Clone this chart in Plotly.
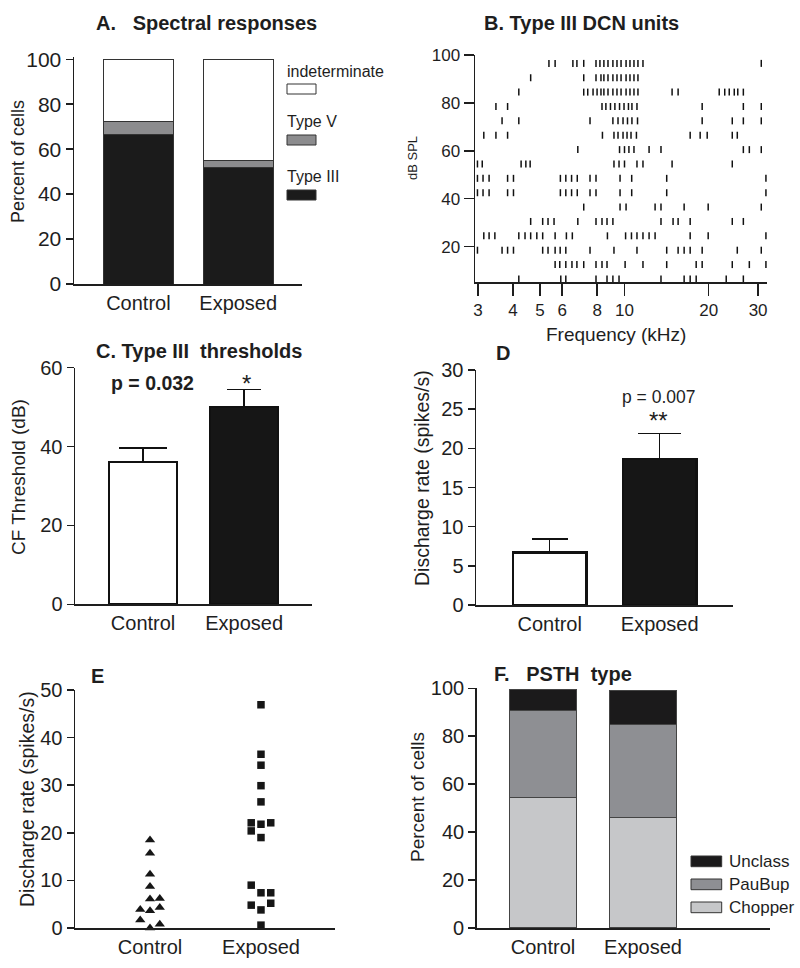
import plotly.graph_objects as go

W, H = 800, 968
FONT = "Liberation Sans, Arial, sans-serif"
INK = "#1e1e1e"

# ---------------- data ----------------
groups = ["Control", "Exposed"]

# A. Spectral responses (percent of cells)
a_type3 = [66.7, 51.8]
a_type5 = [5.8, 3.0]
a_indet = [27.5, 45.2]

# B. Type III DCN units raster: sound level (dB SPL) rows and response frequencies (kHz)
b_levels = [96.5, 90.5, 84.5, 78.5, 72.5, 66.5, 60.5, 54.5,
            48.5, 42.5, 36.5, 30.5, 24.5, 18.5, 12.5, 6.5]
b_freqs = [
    [5.38, 5.66, 6.55, 6.77, 7.16, 7.92, 8.18, 8.45, 8.74, 9.1, 9.41, 9.73, 10.14, 10.47, 10.82, 11.18, 11.65, 30.8],
    [4.63, 7.16, 7.92, 8.25, 8.45, 8.74, 9.1, 9.41, 9.73, 10.14, 10.47, 10.82, 11.18],
    [4.2, 7.16, 7.4, 7.73, 7.99, 8.25, 8.45, 8.74, 9.1, 9.41, 9.73, 10.14, 10.47, 10.82, 11.18, 14.8, 15.55,
     21.8, 22.81, 23.67, 24.67, 25.39, 26.58],
    [3.48, 3.83, 8.32, 8.59, 8.92, 9.25, 9.61, 9.97, 10.34, 10.64, 11.09, 18.95, 26.58, 30.8],
    [3.66, 4.2, 7.54, 9.1, 9.49, 9.89, 10.26, 10.64, 11.14, 18.95, 24.27, 26.58, 30.8],
    [3.15, 3.48, 3.83, 8.35, 9.18, 9.49, 9.89, 10.22, 10.56, 11.04, 17.17, 18.64, 19.75, 24.27, 25.29],
    [6.82, 9.61, 10.01, 10.38, 10.82, 12.25, 13.51, 26.58, 27.92, 30.8],
    [2.99, 3.11, 4.28, 4.45, 4.61, 9.18, 9.57, 10.01, 11.09, 11.65, 14.8, 24.27],
    [2.99, 3.13, 3.29, 3.83, 4.02, 5.91, 6.18, 6.48, 6.79, 7.54, 7.92, 9.65, 10.62, 14.16, 32.0],
    [2.99, 3.13, 3.29, 3.83, 4.02, 5.91, 6.18, 6.48, 6.79, 7.54, 7.92, 9.65, 10.62, 14.16, 32.0],
    [7.16, 9.65, 10.14, 12.87, 13.51, 16.34, 19.91, 30.8],
    [4.63, 5.11, 5.34, 5.61, 6.82, 7.92, 8.32, 8.67, 9.1, 13.51, 14.92, 15.55, 17.17, 24.27, 26.58],
    [3.15, 3.29, 3.45, 4.2, 4.42, 4.63, 4.87, 5.11, 5.66, 6.21, 6.52, 8.7, 10.1, 10.6, 11.09, 11.65, 12.25,
     12.87, 17.17, 19.91, 32.0],
    [2.99, 3.66, 3.83, 4.02, 5.11, 5.34, 5.66, 5.9, 6.18, 7.54, 9.18, 11.09, 14.16, 15.55, 16.34, 17.17,
     18.95, 25.29, 30.8],
    [5.66, 5.88, 6.18, 6.5, 6.77, 7.16, 7.92, 8.32, 8.67, 10.06, 11.65, 14.16, 18.04, 18.95, 24.27, 27.92, 32.0],
    [4.2, 5.93, 6.18, 7.92, 8.67, 9.1, 9.57, 13.51, 16.34, 17.17, 18.04, 23.09, 26.58],
]
b_xticks = [3, 4, 5, 6, 8, 10, 20, 30]

# C. Type III thresholds (dB): mean and SEM
c_mean = [36.0, 50.0]
c_sem = [3.6, 4.5]

# D. Discharge rate (spikes/s): mean and SEM
d_mean = [6.7, 18.6]
d_sem = [1.7, 3.3]

# E. Individual discharge rates (spikes/s) and their column slot in the dot plot
e_ctrl = [18.5, 15.7, 11.3, 8.7, 6.1, 6.2, 3.9, 3.6, 4.3, 1.7, 0.0, 0.8]
e_ctrl_col = [0, 0, 0, 0, 0, 1, -1, 0, 1, -1, 0, 1]
e_expo = [46.9, 36.5, 34.2, 29.9, 26.5, 22.1, 21.8, 22.1, 20.4, 19.0, 9.0, 7.4, 7.4, 5.2, 4.8, 3.8, 0.6]
e_expo_col = [0, 0, 0, 0, 0, -1, 0, 1, -1, 0, -1, 0, 1, 1, -1, 0, 0]

# F. PSTH type (percent of cells)
f_chopper = [54.5, 46.2]
f_paubup = [36.4, 38.5]
f_unclass = [8.4, 14.3]


# ---------------- helpers ----------------
def px(x):
    return x / W


def py(y):
    return 1 - y / H


def axis(dom, rng, **kw):
    d = dict(domain=dom, range=rng, showline=True, linecolor=INK, linewidth=1.5, automargin=False,
             showgrid=False, zeroline=False, ticks="outside", ticklen=7, tickwidth=1.5,
             tickcolor=INK, tickfont=dict(size=20, family=FONT, color=INK), fixedrange=True)
    d.update(kw)
    return d


def cat_axis(dom, rng, **kw):
    return axis(dom, rng, ticks="", tickvals=[0, 1], ticktext=groups, **kw)


fig = go.Figure()
xs = [0, 1]

# ---- A ----
for vals, col in [(a_type3, "#1b1b1b"), (a_type5, "#8c8c8e"), (a_indet, "#ffffff")]:
    fig.add_trace(go.Bar(x=xs, y=vals, width=0.70, marker=dict(color=col, line=dict(color="#333", width=1)),
                         xaxis="x", yaxis="y"))

# ---- B ----
bx, by = [], []
for lev, fr in zip(b_levels, b_freqs):
    for f in fr:
        bx.append(f)
        by.append(lev)
fig.add_trace(go.Scatter(x=bx, y=by, mode="markers", xaxis="x2", yaxis="y2",
                         marker=dict(symbol="line-ns", size=5, line=dict(width=1.5, color="#111")),
                         cliponaxis=False))

# ---- C ----
c_cap = [24, 17]
c_fill = ["#ffffff", "#161616"]
for i in range(2):
    fig.add_trace(go.Bar(x=[xs[i]], y=[c_mean[i]], width=0.67, xaxis="x3", yaxis="y3",
                         marker=dict(color=c_fill[i], line=dict(color="#111", width=2.2)),
                         error_y=dict(type="data", array=[c_sem[i]], arrayminus=[0], symmetric=False,
                                      width=c_cap[i], thickness=1.5, color="#111")))

# ---- D ----
d_cap = [18, 21.5]
for i in range(2):
    fig.add_trace(go.Bar(x=[xs[i]], y=[d_mean[i]], width=0.67, xaxis="x4", yaxis="y4",
                         marker=dict(color=c_fill[i], line=dict(color="#111", width=2.2)),
                         error_y=dict(type="data", array=[d_sem[i]], arrayminus=[0], symmetric=False,
                                      width=d_cap[i], thickness=1.5, color="#111")))

# ---- E ----
slot = 0.088
fig.add_trace(go.Scatter(x=[0 + c * slot for c in e_ctrl_col], y=e_ctrl, mode="markers",
                         xaxis="x5", yaxis="y5", cliponaxis=False,
                         marker=dict(symbol="triangle-up", size=9, color="#161616")))
fig.add_trace(go.Scatter(x=[1 + c * slot for c in e_expo_col], y=e_expo, mode="markers",
                         xaxis="x5", yaxis="y5", cliponaxis=False,
                         marker=dict(symbol="square", size=7.5, color="#161616")))

# ---- F ----
f_cols = ["#c6c7c9", "#8e8f93", "#1b1a1b"]
for vals, col in zip([f_chopper, f_paubup, f_unclass], f_cols):
    fig.add_trace(go.Bar(x=xs, y=vals, width=0.67, marker=dict(color=col, line=dict(color="#444", width=1)),
                         xaxis="x6", yaxis="y6"))

# ---------------- layout ----------------
layout = dict(
    template="none",
    width=W, height=H, margin=dict(l=0, r=0, t=0, b=0, pad=0), autosize=False,
    paper_bgcolor="white", plot_bgcolor="white", showlegend=False, barmode="stack",
    font=dict(family=FONT, color=INK),
    xaxis=cat_axis([px(74), px(302)], [-0.645, 1.639], anchor="y"),
    yaxis=axis([py(284), py(57.05)], [0, 101], tickvals=[0, 20, 40, 60, 80, 100], anchor="x",
               tickfont=dict(size=21, family=FONT, color=INK)),
    xaxis2=axis([px(475), px(766.7)], [0.4669, 1.5079], type="log", tickvals=b_xticks,
                ticktext=[str(t) for t in b_xticks], ticklen=12, anchor="y2",
                tickfont=dict(size=17, family=FONT, color=INK)),
    yaxis2=axis([py(282.3), py(55)], [5.1, 100], tickvals=[20, 40, 60, 80, 100], ticklen=10, anchor="x2",
                tickfont=dict(size=17, family=FONT, color=INK)),
    xaxis3=cat_axis([px(75), px(311.7)], [-0.673, 1.668], anchor="y3"),
    yaxis3=axis([py(604.3), py(367.7)], [0, 60], tickvals=[0, 20, 40, 60], anchor="x3"),
    xaxis4=cat_axis([px(476), px(733.3)], [-0.67, 1.669], anchor="y4"),
    yaxis4=axis([py(605), py(370)], [0, 30], tickvals=[0, 5, 10, 15, 20, 25, 30], anchor="x4"),
    xaxis5=cat_axis([px(75), px(335)], [-0.676, 1.667], anchor="y5"),
    yaxis5=axis([py(928), py(690)], [0, 50], tickvals=[0, 10, 20, 30, 40, 50], anchor="x5"),
    xaxis6=cat_axis([px(476.7), px(770)], [-0.663, 2.27], anchor="y6"),
    yaxis6=axis([py(928), py(688.3)], [0, 100], tickvals=[0, 20, 40, 60, 80, 100], anchor="x6"),
)

ann = []


def text(x, y, s, size, bold=False, angle=0, xanchor="center"):
    ann.append(dict(x=px(x), y=py(y), xref="paper", yref="paper", text=("<b>%s</b>" % s) if bold else s,
                    showarrow=False, textangle=angle, xanchor=xanchor, yanchor="middle",
                    font=dict(size=size, family=FONT, color=INK)))


NB = "\u00a0"
# titles
text(206, 23, "A." + NB * 3 + "Spectral responses", 20, bold=True)
text(581, 23, "B. Type III DCN units", 20, bold=True)
text(199, 351, "C. Type III" + NB * 2 + "thresholds", 20, bold=True)
text(503, 353, "D", 20, bold=True)
text(97, 676, "E", 20, bold=True)
text(563, 674, "F." + NB * 3 + "PSTH" + NB * 2 + "type", 20, bold=True)
# axis titles
text(18, 162, "Percent of cells", 18, angle=-90)
text(413, 158, "dB SPL", 13, angle=-90)
text(616, 334, "Frequency (kHz)", 19)
text(18, 477, "CF Threshold (dB)", 19, angle=-90)
text(422, 478, "Discharge rate (spikes/s)", 19.5, angle=-90)
text(27, 799, "Discharge rate (spikes/s)", 19.5, angle=-90)
text(417, 797, "Percent of cells", 19, angle=-90)
# significance labels
text(152, 383, "p = 0.032", 19.5, bold=True)
text(246, 383, "*", 24)
text(658, 397, "p = 0.007", 17.5)
text(658, 421, "**", 24)

# legend A
shapes = []
for lab, ytxt, y0, col in [("indeterminate", 71, 84, "#ffffff"), ("Type V", 121, 135, "#8c8c8e"),
                           ("Type III", 176, 190, "#1b1b1b")]:
    text(285, ytxt, lab, 16, xanchor="left")
    shapes.append(dict(type="rect", xref="paper", yref="paper", x0=px(287), x1=px(316),
                       y0=py(y0 + 10), y1=py(y0), line=dict(color="#333", width=1), fillcolor=col))
# legend F
for lab, y0, col in [("Unclass", 856, f_cols[2]), ("PauBup", 879, f_cols[1]), ("Chopper", 902, f_cols[0])]:
    text(727, y0 + 5.3, lab, 17, xanchor="left")
    shapes.append(dict(type="rect", xref="paper", yref="paper", x0=px(691), x1=px(721.7),
                       y0=py(y0 + 10.7), y1=py(y0), line=dict(color="#333", width=1), fillcolor=col))

layout["annotations"] = ann
layout["shapes"] = shapes
fig.update_layout(**layout)
fig.write_html("out.html", config={"displayModeBar": False, "staticPlot": True},
               post_script="document.body.style.margin='0px';document.body.style.overflow='hidden';")
